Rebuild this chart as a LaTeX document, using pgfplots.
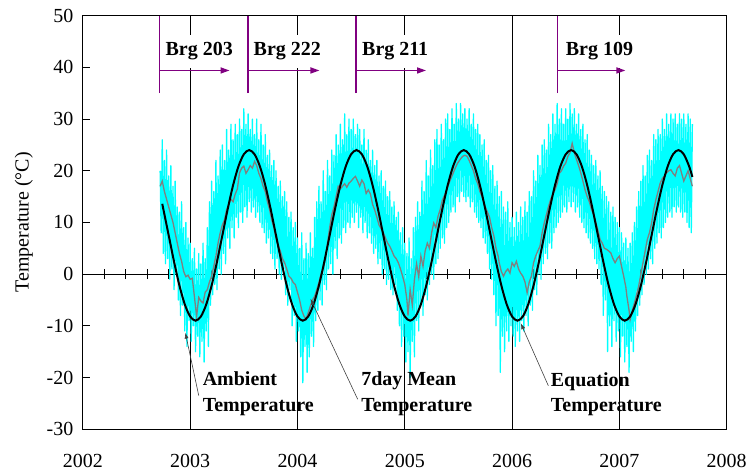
\documentclass[border=0pt]{standalone}
\usepackage{pgfplots}
\pgfplotsset{compat=1.18}
\usepackage{fontspec}
\setmainfont{Liberation Serif}
\usetikzlibrary{arrows.meta}
\definecolor{brgpurple}{RGB}{128,0,128}
\definecolor{ambcyan}{RGB}{0,255,255}
\definecolor{meangray}{RGB}{128,128,128}
\begin{document}
\begin{tikzpicture}
% zero line with ticks (drawn first, beneath the data)
\begin{axis}[scale only axis, width=645pt, height=414.3pt, at={(0,0)}, anchor=south west,
 xmin=2002,xmax=2008,ymin=-30,ymax=50,
 axis x line*=middle, axis y line=none,
 xtick={2002.2,2002.4,2002.6,2002.8,2003.2,2003.4,2003.6,2003.8,2004.2,2004.4,2004.6,2004.8,2005.2,2005.4,2005.6,2005.8,2006.2,2006.4,2006.6,2006.8,2007.2,2007.4,2007.6,2007.8},
 xticklabels={}, xtick align=center, major tick length=10pt,
 x axis line style={line width=1pt,-}, xtick style={line width=0.9pt,black}]
\addplot[draw=none] coordinates {(2002,0) (2008,0)};
\end{axis}
\begin{axis}[name=main, scale only axis, width=645pt, height=414.3pt, at={(0,0)}, anchor=south west,
 xmin=2002,xmax=2008,ymin=-30,ymax=50,
 xtick={2002,2003,2004,2005,2006,2007,2008}, ytick={-30,-20,-10,0,10,20,30,40,50},
 xmajorgrids, major grid style={black,line width=1pt},
 xtick style={draw=none},
 ytick pos=left, tick align=inside, major tick length=7pt,
 ytick style={line width=1pt,black},
 axis line style={line width=1.1pt},
 tick label style={font=\fontsize{20}{24}\selectfont},
 /pgf/number format/assume math mode=true,
 /pgf/number format/1000 sep={},
 yticklabel style={xshift=-6pt},
 xticklabel style={yshift=-21pt},
 ylabel={Temperature (°C)},
 ylabel style={font=\fontsize{20}{24}\selectfont, at={(axis description cs:-0.0915,0.5)}, anchor=center},
]
% Ambient temperature (daily)
\addplot[ambcyan, line width=1.3pt, line join=round] coordinates {
(2002.72,20)(2002.73,8)(2002.74,26)(2002.75,4)(2002.76,22)(2002.77,2)(2002.78,24)(2002.79,3)(2002.80,19)(2002.81,-1)
(2002.82,21)(2002.83,1)(2002.84,17)(2002.85,-3)(2002.86,18)(2002.87,0)(2002.88,13)(2002.89,-5)(2002.90,12)(2002.91,-8)
(2002.92,14)(2002.93,-6)(2002.94,9)(2002.95,-11)(2002.96,10)(2002.97,-14)(2002.98,7)(2002.99,-9)
(2003.00,6)(2003.01,-13)(2003.02,3)(2003.03,-10)(2003.04,5)(2003.05,-15)(2003.06,1)(2003.07,-12)(2003.08,4)(2003.09,-16)
(2003.10,2)(2003.11,-13)(2003.12,6)(2003.13,-17)(2003.14,3)(2003.15,-11)(2003.16,9)(2003.17,-14)(2003.18,14)(2003.19,-6)
(2003.20,18)(2003.21,-4)(2003.22,16)(2003.23,-2)(2003.24,22)(2003.25,-3)(2003.26,19)(2003.27,1)(2003.28,24)(2003.29,0)
(2003.30,25)(2003.31,4)(2003.32,22)(2003.33,2)(2003.34,28)(2003.35,7)(2003.36,24)(2003.37,5)(2003.38,29)(2003.39,9)
(2003.40,26)(2003.41,7)(2003.42,29)(2003.43,11)(2003.44,27)(2003.45,9)(2003.46,30)(2003.47,12)(2003.48,28)(2003.49,10)
(2003.50,32)(2003.51,13)(2003.52,29)(2003.53,11)(2003.54,31)(2003.55,14)(2003.56,28)(2003.57,12)(2003.58,30)(2003.59,13)
(2003.60,27)(2003.61,11)(2003.62,30)(2003.63,12)(2003.64,26)(2003.65,10)(2003.66,29)(2003.67,9)(2003.68,25)(2003.69,8)
(2003.70,27)(2003.71,6)(2003.72,23)(2003.73,7)(2003.74,24)(2003.75,4)(2003.76,21)(2003.77,3)(2003.78,22)(2003.79,1)
(2003.80,20)(2003.81,3)(2003.82,17)(2003.83,0)(2003.84,18)(2003.85,-1)(2003.86,15)(2003.87,1)(2003.88,16)(2003.89,-4)
(2003.90,14)(2003.91,-6)(2003.92,11)(2003.93,-3)(2003.94,12)(2003.95,-10)(2003.96,9)(2003.97,-8)(2003.98,10)(2003.99,-13)
(2004.00,7)(2004.01,-11)(2004.02,5)(2004.03,-16)(2004.04,8)(2004.05,-21)(2004.06,3)(2004.07,-14)(2004.08,6)(2004.09,-19)
(2004.10,4)(2004.11,-16)(2004.12,8)(2004.13,-12)(2004.14,5)(2004.15,-14)(2004.16,11)(2004.17,-9)(2004.18,14)(2004.19,-7)
(2004.20,17)(2004.21,-5)(2004.22,14)(2004.23,-6)(2004.24,20)(2004.25,-2)(2004.26,16)(2004.27,-3)(2004.28,22)(2004.29,1)
(2004.30,19)(2004.31,2)(2004.32,24)(2004.33,0)(2004.34,23)(2004.35,5)(2004.36,27)(2004.37,3)(2004.38,25)(2004.39,7)
(2004.40,29)(2004.41,6)(2004.42,26)(2004.43,9)(2004.44,31)(2004.45,8)(2004.46,27)(2004.47,10)(2004.48,30)(2004.49,9)
(2004.50,28)(2004.51,11)(2004.52,30)(2004.53,10)(2004.54,27)(2004.55,12)(2004.56,29)(2004.57,9)(2004.58,28)(2004.59,11)
(2004.60,25)(2004.61,8)(2004.62,28)(2004.63,10)(2004.64,24)(2004.65,7)(2004.66,26)(2004.67,8)(2004.68,22)(2004.69,6)
(2004.70,24)(2004.71,4)(2004.72,21)(2004.73,5)(2004.74,22)(2004.75,2)(2004.76,19)(2004.77,3)(2004.78,20)(2004.79,0)
(2004.80,17)(2004.81,1)(2004.82,18)(2004.83,-2)(2004.84,15)(2004.85,-1)(2004.86,16)(2004.87,-3)(2004.88,13)(2004.89,-4)
(2004.90,14)(2004.91,-2)(2004.92,11)(2004.93,-7)(2004.94,12)(2004.95,-10)(2004.96,8)(2004.97,-14)(2004.98,9)(2004.99,-12)
(2005.00,6)(2005.01,-17)(2005.02,4)(2005.03,-15)(2005.04,7)(2005.05,-20)(2005.06,3)(2005.07,-13)(2005.08,9)(2005.09,-16)
(2005.10,11)(2005.11,-9)(2005.12,14)(2005.13,-11)(2005.14,12)(2005.15,-6)(2005.16,18)(2005.17,-8)(2005.18,16)(2005.19,-4)
(2005.20,22)(2005.21,-5)(2005.22,19)(2005.23,-2)(2005.24,24)(2005.25,0)(2005.26,21)(2005.27,-1)(2005.28,26)(2005.29,2)
(2005.30,28)(2005.31,3)(2005.32,25)(2005.33,5)(2005.34,29)(2005.35,7)(2005.36,26)(2005.37,6)(2005.38,30)(2005.39,9)
(2005.40,31)(2005.41,10)(2005.42,28)(2005.43,12)(2005.44,32)(2005.45,13)(2005.46,29)(2005.47,12)(2005.48,33)(2005.49,15)
(2005.50,30)(2005.51,14)(2005.52,33)(2005.53,16)(2005.54,31)(2005.55,15)(2005.56,32)(2005.57,14)(2005.58,30)(2005.59,15)
(2005.60,32)(2005.61,13)(2005.62,29)(2005.63,14)(2005.64,31)(2005.65,12)(2005.66,28)(2005.67,11)(2005.68,29)(2005.69,10)
(2005.70,27)(2005.71,9)(2005.72,25)(2005.73,7)(2005.74,26)(2005.75,6)(2005.76,22)(2005.77,4)(2005.78,23)(2005.79,1)
(2005.80,20)(2005.81,-1)(2005.82,21)(2005.83,-4)(2005.84,17)(2005.85,-10)(2005.86,18)(2005.87,-8)(2005.88,15)(2005.89,-19)
(2005.90,16)(2005.91,-12)(2005.92,13)(2005.93,-15)(2005.94,12)(2005.95,-11)(2005.96,14)(2005.97,-13)(2005.98,10)(2005.99,-10)
(2006.00,11)(2006.01,-12)(2006.02,9)(2006.03,-14)(2006.04,12)(2006.05,-11)(2006.06,10)(2006.07,-13)(2006.08,13)(2006.09,-9)
(2006.10,11)(2006.11,-11)(2006.12,14)(2006.13,-8)(2006.14,12)(2006.15,-10)(2006.16,16)(2006.17,-6)(2006.18,15)(2006.19,-7)
(2006.20,20)(2006.21,-3)(2006.22,18)(2006.23,-4)(2006.24,23)(2006.25,0)(2006.26,21)(2006.27,-1)(2006.28,25)(2006.29,2)
(2006.30,26)(2006.31,4)(2006.32,24)(2006.33,3)(2006.34,29)(2006.35,6)(2006.36,27)(2006.37,5)(2006.38,31)(2006.39,8)
(2006.40,29)(2006.41,9)(2006.42,33)(2006.43,10)(2006.44,30)(2006.45,11)(2006.46,32)(2006.47,12)(2006.48,29)(2006.49,13)
(2006.50,32)(2006.51,12)(2006.52,30)(2006.53,14)(2006.54,33)(2006.55,13)(2006.56,31)(2006.57,14)(2006.58,32)(2006.59,12)
(2006.60,29)(2006.61,13)(2006.62,31)(2006.63,11)(2006.64,28)(2006.65,10)(2006.66,29)(2006.67,9)(2006.68,26)(2006.69,8)
(2006.70,27)(2006.71,7)(2006.72,24)(2006.73,6)(2006.74,23)(2006.75,5)(2006.76,21)(2006.77,3)(2006.78,22)(2006.79,2)
(2006.80,19)(2006.81,1)(2006.82,20)(2006.83,-2)(2006.84,17)(2006.85,-8)(2006.86,16)(2006.87,-5)(2006.88,15)(2006.89,-15)
(2006.90,14)(2006.91,-10)(2006.92,12)(2006.93,-14)(2006.94,13)(2006.95,-9)(2006.96,11)(2006.97,-13)(2006.98,10)(2006.99,-11)
(2007.00,9)(2007.01,-16)(2007.02,8)(2007.03,-12)(2007.04,6)(2007.05,-17)(2007.06,7)(2007.07,-14)(2007.08,5)(2007.09,-19)
(2007.10,6)(2007.11,-13)(2007.12,8)(2007.13,-15)(2007.14,10)(2007.15,-11)(2007.16,13)(2007.17,-8)(2007.18,16)(2007.19,-6)
(2007.20,18)(2007.21,-4)(2007.22,21)(2007.23,-2)(2007.24,19)(2007.25,0)(2007.26,23)(2007.27,1)(2007.28,24)(2007.29,3)
(2007.30,22)(2007.31,2)(2007.32,27)(2007.33,5)(2007.34,26)(2007.35,6)(2007.36,28)(2007.37,8)(2007.38,27)(2007.39,7)
(2007.40,30)(2007.41,9)(2007.42,28)(2007.43,10)(2007.44,31)(2007.45,11)(2007.46,29)(2007.47,12)(2007.48,31)(2007.49,11)
(2007.50,30)(2007.51,13)(2007.52,31)(2007.53,12)(2007.54,29)(2007.55,13)(2007.56,31)(2007.57,12)(2007.58,30)(2007.59,11)
(2007.60,31)(2007.61,12)(2007.62,29)(2007.63,10)(2007.64,31)(2007.65,9)(2007.66,30)(2007.67,8)(2007.68,29)
};
% 7-day mean temperature
\addplot[meangray, line width=1.3pt] coordinates {
(2002.72,17)(2002.74,18)(2002.76,16)(2002.78,14.5)(2002.80,13)(2002.82,11.5)(2002.84,10)(2002.86,8)(2002.88,6)(2002.90,4)
(2002.92,2.5)(2002.94,0.5)(2002.96,-0.5)(2002.98,-0.2)(2003.00,-1)(2003.02,-0.8)(2003.04,-4.4)(2003.06,-8.2)(2003.08,-4.5)
(2003.10,-5.2)(2003.12,-5.6)(2003.14,-3.5)(2003.16,-3)(2003.18,-1.5)(2003.20,-0.4)(2003.22,1.5)(2003.24,3.5)(2003.26,6)
(2003.28,8)(2003.30,9.5)(2003.32,10.5)(2003.34,12.5)(2003.36,13.5)(2003.38,14.5)(2003.40,14)(2003.42,15.5)(2003.44,16.5)
(2003.46,19.6)(2003.48,20.5)(2003.50,20.9)(2003.52,19.5)(2003.54,20.2)(2003.56,21)(2003.58,20.5)(2003.60,21.8)(2003.62,21)
(2003.64,19.5)(2003.66,18.5)(2003.68,17)(2003.70,16)(2003.72,14)(2003.74,12.5)(2003.76,10.5)(2003.78,9)(2003.80,7)
(2003.82,5.5)(2003.84,4.5)(2003.86,3)(2003.88,2.2)(2003.90,1)(2003.92,-0.4)(2003.94,-0.8)(2003.96,-1.6)(2003.98,-2)
(2004.00,-3.5)(2004.02,-5)(2004.04,-7)(2004.06,-8.1)(2004.08,-8.7)(2004.10,-7.5)(2004.12,-6.2)(2004.14,-5)(2004.16,-4.3)
(2004.18,-3)(2004.20,-1.6)(2004.22,0)(2004.24,1)(2004.26,3)(2004.28,6)(2004.30,9)(2004.32,11.5)(2004.34,13)(2004.36,15)
(2004.38,17)(2004.40,16.5)(2004.42,17)(2004.44,17.5)(2004.46,16.8)(2004.48,17.6)(2004.50,18)(2004.52,18.5)(2004.54,18.9)
(2004.56,18)(2004.58,17)(2004.60,18.2)(2004.62,17.5)(2004.64,15.6)(2004.66,16.3)(2004.68,15.5)(2004.70,13.5)(2004.72,12.4)
(2004.74,11)(2004.76,9.5)(2004.78,8.8)(2004.80,8)(2004.82,7)(2004.84,6)(2004.86,5.4)(2004.88,4.5)(2004.90,3.5)(2004.92,3)
(2004.94,2.2)(2004.96,1)(2004.98,-0.4)(2005.00,-2)(2005.02,-5)(2005.03,-8)(2005.05,-3)(2005.07,-6)(2005.09,-1)(2005.11,2)
(2005.13,-0.5)(2005.15,3.5)(2005.17,1.5)(2005.19,4.5)(2005.21,6)(2005.23,5)(2005.25,8)(2005.27,9.9)(2005.29,9)(2005.31,11.2)
(2005.33,12.5)(2005.35,14.3)(2005.37,15.2)(2005.40,16.9)(2005.42,18)(2005.45,19.5)(2005.47,20.5)(2005.49,21.4)(2005.52,22.3)
(2005.54,22.8)(2005.56,23)(2005.58,22.8)(2005.60,22)(2005.62,21)(2005.64,20)(2005.66,18.5)(2005.68,17.5)(2005.70,16)
(2005.72,15)(2005.74,13.5)(2005.76,12.5)(2005.79,11)(2005.81,9)(2005.83,7.4)(2005.85,5)(2005.87,3.5)(2005.88,2.2)(2005.90,0.5)
(2005.92,-0.4)(2005.94,0.5)(2005.96,1)(2005.98,0.2)(2006.00,2.2)(2006.02,1.5)(2006.04,2.5)(2006.06,1)(2006.08,0.2)(2006.10,-0.4)
(2006.12,-1.5)(2006.14,-3.6)(2006.16,-1.5)(2006.18,-0.4)(2006.20,2.2)(2006.22,3.5)(2006.24,4.5)(2006.26,5.4)(2006.28,8)
(2006.30,9.9)(2006.32,11.5)(2006.34,13.1)(2006.36,14.5)(2006.38,15.5)(2006.40,16.3)(2006.42,17.5)(2006.44,19.5)(2006.46,20)
(2006.48,20.9)(2006.50,21.5)(2006.52,22.8)(2006.54,23.5)(2006.56,25.3)(2006.58,23.5)(2006.60,22.2)(2006.62,21)(2006.64,19.6)
(2006.66,18)(2006.68,16.3)(2006.70,15)(2006.72,14)(2006.74,12.5)(2006.76,11.5)(2006.78,10)(2006.80,8.5)(2006.82,6.7)
(2006.84,6)(2006.86,5)(2006.88,4.8)(2006.90,4.5)(2006.92,4.1)(2006.94,3)(2006.96,2.2)(2006.98,3)(2007.00,3.5)(2007.02,1.5)
(2007.04,-0.4)(2007.06,-2.5)(2007.07,-4.3)(2007.09,-7)(2007.10,-8.8)(2007.12,-7)(2007.14,-5.6)(2007.16,-4)(2007.18,-2.3)
(2007.20,0)(2007.22,2.2)(2007.24,4.5)(2007.26,6.7)(2007.28,8)(2007.30,9.9)(2007.32,12.5)(2007.34,14.4)(2007.36,16)
(2007.38,17.6)(2007.40,18.5)(2007.42,19)(2007.44,19.6)(2007.46,20)(2007.48,20.2)(2007.50,19.5)(2007.52,19)(2007.54,20.5)
(2007.56,21)(2007.58,19.5)(2007.60,18)(2007.62,19)(2007.64,20)(2007.66,18.5)(2007.68,17)
};
% Equation temperature
\addplot[black, line width=2pt, smooth] coordinates {
(2002.74,13.6)(2002.80,7.50)(2002.85,2.40)(2002.90,-2.20)(2002.95,-5.85)
(2003.00,-8.19)(2003.05,-9.00)(2003.10,-8.19)(2003.15,-5.85)(2003.20,-2.20)(2003.25,2.40)(2003.30,7.50)(2003.35,12.60)(2003.40,17.20)(2003.45,20.85)
(2003.50,23.19)(2003.55,24.00)(2003.60,23.19)(2003.65,20.85)(2003.70,17.20)(2003.75,12.60)(2003.80,7.50)(2003.85,2.40)(2003.90,-2.20)(2003.95,-5.85)
(2004.00,-8.19)(2004.05,-9.00)(2004.10,-8.19)(2004.15,-5.85)(2004.20,-2.20)(2004.25,2.40)(2004.30,7.50)(2004.35,12.60)(2004.40,17.20)(2004.45,20.85)
(2004.50,23.19)(2004.55,24.00)(2004.60,23.19)(2004.65,20.85)(2004.70,17.20)(2004.75,12.60)(2004.80,7.50)(2004.85,2.40)(2004.90,-2.20)(2004.95,-5.85)
(2005.00,-8.19)(2005.05,-9.00)(2005.10,-8.19)(2005.15,-5.85)(2005.20,-2.20)(2005.25,2.40)(2005.30,7.50)(2005.35,12.60)(2005.40,17.20)(2005.45,20.85)
(2005.50,23.19)(2005.55,24.00)(2005.60,23.19)(2005.65,20.85)(2005.70,17.20)(2005.75,12.60)(2005.80,7.50)(2005.85,2.40)(2005.90,-2.20)(2005.95,-5.85)
(2006.00,-8.19)(2006.05,-9.00)(2006.10,-8.19)(2006.15,-5.85)(2006.20,-2.20)(2006.25,2.40)(2006.30,7.50)(2006.35,12.60)(2006.40,17.20)(2006.45,20.85)
(2006.50,23.19)(2006.55,24.00)(2006.60,23.19)(2006.65,20.85)(2006.70,17.20)(2006.75,12.60)(2006.80,7.50)(2006.85,2.40)(2006.90,-2.20)(2006.95,-5.85)
(2007.00,-8.19)(2007.05,-9.00)(2007.10,-8.19)(2007.15,-5.85)(2007.20,-2.20)(2007.25,2.40)(2007.30,7.50)(2007.35,12.60)(2007.40,17.20)(2007.45,20.85)
(2007.50,23.19)(2007.55,24.00)(2007.60,23.19)(2007.65,20.85)(2007.68,18.8)
};
% annotations
\tikzset{annot/.style={black!75, line width=0.6pt, -{Latex[length=6pt,width=4pt]}},
         lbl/.style={anchor=base west, inner sep=0pt, font=\bfseries\fontsize{20}{24}\selectfont},
         brg/.style={anchor=base west, fill=white, inner xsep=2pt, inner ysep=8pt, font=\bfseries\fontsize{20}{24}\selectfont},
         pline/.style={brgpurple, line width=1.5pt},
         parrow/.style={brgpurple, line width=1.5pt, -{Triangle[length=9pt,width=6pt]}}}
\draw[annot] (axis cs:2003.08,-23.5) -- (axis cs:2002.955,-11.3);
\draw[annot] (axis cs:2004.561,-24.2) -- (axis cs:2004.121,-4.75);
\draw[annot] (axis cs:2006.338,-21.6) -- (axis cs:2006.081,-9.5);
\node[lbl] at (axis cs:2003.116,-21.6) {Ambient};
\node[lbl] at (axis cs:2003.116,-26.6) {Temperature};
\node[lbl] at (axis cs:2004.593,-21.6) {7day Mean};
\node[lbl] at (axis cs:2004.593,-26.6) {Temperature};
\node[lbl] at (axis cs:2006.36,-21.7) {Equation};
\node[lbl] at (axis cs:2006.36,-26.6) {Temperature};
\node[brg] at (axis cs:2002.751,42.2) {Brg 203};
\node[brg] at (axis cs:2003.572,42.2) {Brg 222};
\node[brg] at (axis cs:2004.583,42.2) {Brg 211};
\node[brg] at (axis cs:2006.481,42.2) {Brg 109};
\draw[pline] (axis cs:2002.716,35) -- (axis cs:2002.716,50);
\draw[pline] (axis cs:2003.540,35) -- (axis cs:2003.540,50);
\draw[pline] (axis cs:2004.546,35) -- (axis cs:2004.546,50);
\draw[pline] (axis cs:2006.425,35) -- (axis cs:2006.425,50);
\draw[parrow] (axis cs:2002.716,39.4) -- (axis cs:2003.367,39.4);
\draw[parrow] (axis cs:2003.540,39.4) -- (axis cs:2004.205,39.4);
\draw[parrow] (axis cs:2004.546,39.4) -- (axis cs:2005.198,39.4);
\draw[parrow] (axis cs:2006.425,39.4) -- (axis cs:2007.056,39.4);
\end{axis}
\path ([shift={(-83pt,-41pt)}]main.south west) rectangle ([shift={(22pt,15.7pt)}]main.north east);
\end{tikzpicture}
\end{document}
